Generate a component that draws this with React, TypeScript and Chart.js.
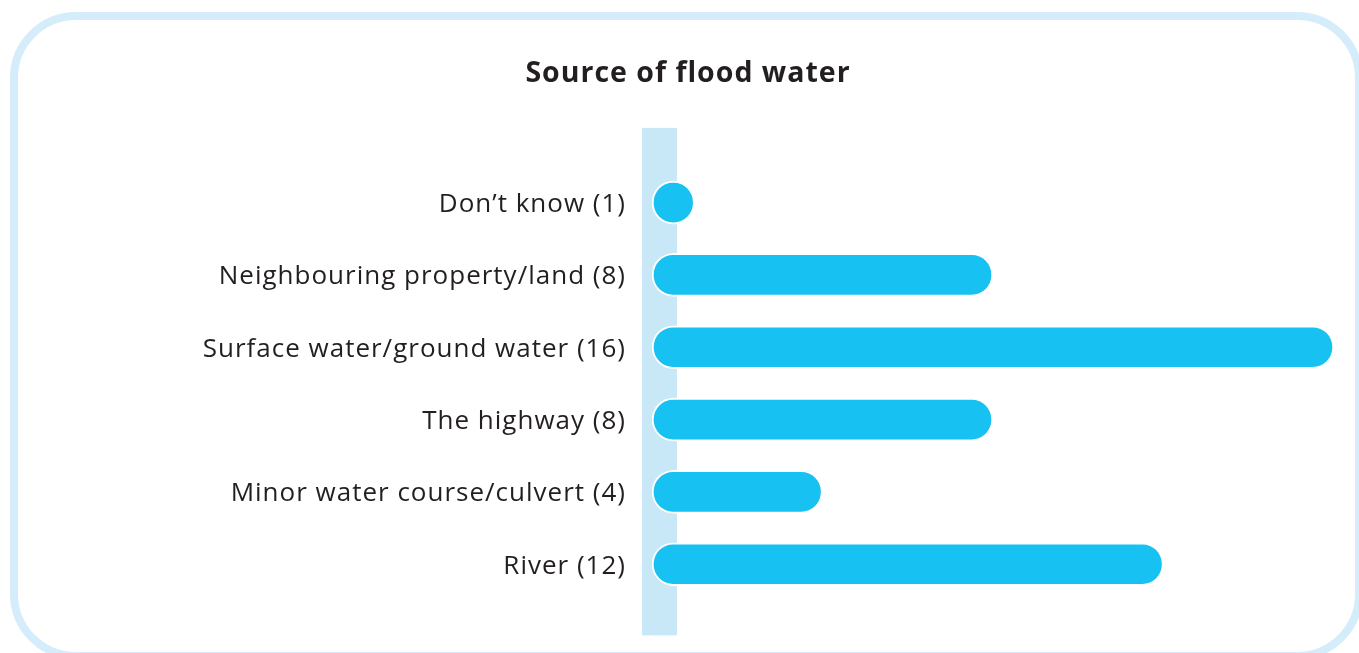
import React, { useEffect, useRef } from "react";
import { Chart, registerables } from "chart.js";

Chart.register(...registerables);

const categories = [
  "Don’t know (1)",
  "Neighbouring property/land (8)",
  "Surface water/ground water (16)",
  "The highway (8)",
  "Minor water course/culvert (4)",
  "River (12)",
];
const values = [1, 8, 16, 8, 4, 12];
const titleText = "Source of flood water";

const framePlugin = {
  id: "frame",
  beforeDraw(chart: any) {
    const ctx = chart.ctx;
    ctx.save();
    ctx.fillStyle = "#ffffff";
    ctx.fillRect(0, 0, chart.width, chart.height);
    ctx.strokeStyle = "#d5edfa";
    ctx.lineWidth = 8;
    ctx.beginPath();
    ctx.roundRect(14, 16, 1345, 640, 62);
    ctx.stroke();
    ctx.restore();
    (ctx as any).letterSpacing = "1px";
  },
  beforeDatasetsDraw(chart: any) {
    const ctx = chart.ctx;
    const x0 = chart.scales.x.getPixelForValue(0);
    const { top, bottom } = chart.chartArea;
    ctx.save();
    ctx.fillStyle = "#c8e8f8";
    ctx.fillRect(x0 - 10, top - 38.5, 35, bottom - top + 73.5);
    ctx.restore();
  },
};

export default function App() {
  const ref = useRef<HTMLCanvasElement | null>(null);
  useEffect(() => {
    if (!ref.current) return;
    const chart = new Chart(ref.current, {
      type: "bar",
      data: {
        labels: categories,
        datasets: [
          {
            data: values,
            backgroundColor: "#17c1f1",
            borderColor: "#ffffff",
            borderWidth: 2,
            borderRadius: 22,
            borderSkipped: false,
            barThickness: 43,
          },
        ],
      },
      options: {
        indexAxis: "y",
        animation: false,
        responsive: false,
        layout: { padding: { left: 42, right: 25, top: 0, bottom: 52.6 } },
        plugins: {
          legend: { display: false },
          tooltip: { enabled: false },
          title: {
            display: true,
            text: titleText,
            color: "#231f20",
            font: { family: "'Open Sans'", size: 28.5, weight: "bold", lineHeight: 1.2 },
            padding: { top: 57, bottom: 75.2 },
          },
        },
        scales: {
          x: { display: false, min: 0, max: 16 },
          y: {
            grid: { display: false, drawTicks: false },
            border: { display: false },
            ticks: {
              color: "#231f20",
              font: { family: "'Open Sans'", size: 26 },
              padding: 26,
              labelOffset: 2,
            },
            afterFit(scale: any) {
              scale.width = 610;
            },
          },
        },
      },
      plugins: [framePlugin],
    });
    return () => chart.destroy();
  }, []);
  return (
    <canvas
      ref={ref}
      width={1359}
      height={653}
      style={{ position: "absolute", left: 0, top: 0, display: "block", width: 1359, height: 653 }}
    />
  );
}
